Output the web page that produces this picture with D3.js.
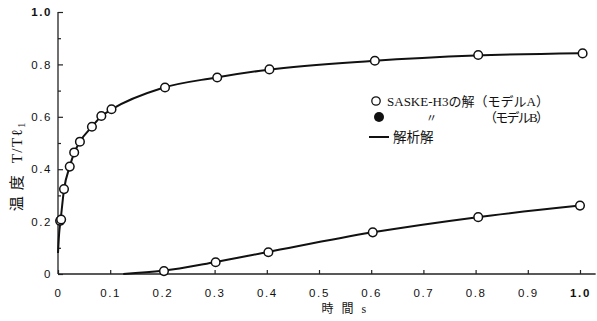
<!DOCTYPE html>
<html><head><meta charset="utf-8">
<script src="https://cdn.jsdelivr.net/npm/d3@7"></script>
<style>
body{margin:0;background:#fff;}
svg{display:block;}
text{fill:#111;}
</style></head>
<body>
<svg id="c" width="597" height="321"></svg>
<script>
// ---- data (time s, temperature ratio T/Tl1) ----
const upperT = [0.004, 0.006, 0.0115, 0.0225, 0.031, 0.042, 0.065, 0.083, 0.1025, 0.205, 0.305, 0.405, 0.607, 0.805, 1.005];
const upperV = [0.203, 0.208, 0.324, 0.41, 0.464, 0.505, 0.562, 0.603, 0.629, 0.712, 0.75, 0.781, 0.814, 0.836, 0.842];
const lowerT = [0.203, 0.302, 0.403, 0.603, 0.805, 1.0];
const lowerV = [0.011, 0.045, 0.083, 0.159, 0.217, 0.261];
const analyticUpperT = [0.0, 0.002, 0.005, 0.0115, 0.0225, 0.031, 0.042, 0.065, 0.083, 0.1025, 0.2, 0.3, 0.4, 0.6, 0.8, 1.0];
const analyticUpperV = [0.08, 0.15, 0.205, 0.322, 0.41, 0.462, 0.505, 0.562, 0.602, 0.628, 0.71, 0.749, 0.779, 0.813, 0.834, 0.843];
const analyticLowerT = [0.125, 0.2, 0.3, 0.4, 0.6, 0.8, 1.0];
const analyticLowerV = [0.0, 0.012, 0.045, 0.083, 0.158, 0.216, 0.261];
const xTicks = [0, 0.1, 0.2, 0.3, 0.4, 0.5, 0.6, 0.7, 0.8, 0.9, 1.0];
const xTickLabels = ["0", "0.1", "0.2", "0.3", "0.4", "0.5", "0.6", "0.7", "0.8", "0.9", "1.0"];
const yTicks = [0, 0.1, 0.2, 0.3, 0.4, 0.5, 0.6, 0.7, 0.8, 0.9, 1.0];
const yTickLabels = ["0", "", "0.2", "", "0.4", "", "0.6", "", "0.8", "", "1.0"];
const legendLabels = ["SASKE-H3の解（モデルA）", "〃", "（モデルB）", "解析解"];
const xTitle = "時 間 s";

const svg = d3.select("#c");
const x = d3.scaleLinear().domain([0, 1]).range([58, 580]);
const y = d3.scaleLinear().domain([0, 1]).range([274, 12]);
const numFont = "'Liberation Sans', Arial, sans-serif";

// axes
const xa = svg.append("g").attr("transform", `translate(0,${y(0)})`)
  .call(d3.axisBottom(x).tickValues(xTicks).tickSizeInner(-4).tickSizeOuter(0).tickPadding(15)
    .tickFormat((d, i) => xTickLabels[i]));
xa.select(".domain").remove();
const ya = svg.append("g").attr("transform", `translate(${x(0)},0)`)
  .call(d3.axisLeft(y).tickValues(yTicks).tickSizeInner(-4).tickSizeOuter(0).tickPadding(6)
    .tickFormat((d, i) => yTickLabels[i]));
ya.select(".domain").remove();
[xa, ya].forEach(g => {
  g.selectAll("line").attr("stroke", "#222").attr("stroke-width", 1.2);
  g.selectAll("text").attr("font-family", numFont).attr("font-size", 11.5)
    .attr("letter-spacing", 1.6).attr("fill", "#111");
});
ya.selectAll(".tick line").attr("x2", (d, i) => (i % 2 === 0 ? 5 : 3));
xa.selectAll(".tick text").filter(d => d === 1).attr("font-weight", "bold");
ya.selectAll(".tick text").filter(d => d === 1).attr("font-weight", "bold");

svg.append("line").attr("x1", x(0)).attr("x2", x(1.03)).attr("y1", y(0)).attr("y2", y(0))
  .attr("stroke", "#222").attr("stroke-width", 1.3);
svg.append("line").attr("x1", x(0)).attr("x2", x(0)).attr("y1", y(0)).attr("y2", y(1))
  .attr("stroke", "#222").attr("stroke-width", 1.3);

// analytic lines
const line = d3.line().x(d => x(d[0])).y(d => y(d[1])).curve(d3.curveMonotoneX);
svg.append("path").datum(analyticUpperT.map((t, i) => [t, analyticUpperV[i]]))
  .attr("d", line).attr("fill", "none").attr("stroke", "#111").attr("stroke-width", 2);
svg.append("path").datum(analyticLowerT.map((t, i) => [t, analyticLowerV[i]]))
  .attr("d", line).attr("fill", "none").attr("stroke", "#111").attr("stroke-width", 2);

// model A points
const pts = upperT.map((t, i) => [t, upperV[i]]).concat(lowerT.map((t, i) => [t, lowerV[i]]));
svg.append("g").selectAll("circle").data(pts).join("circle")
  .attr("cx", d => x(d[0])).attr("cy", d => y(d[1])).attr("r", 4.3)
  .attr("fill", "#fff").attr("stroke", "#111").attr("stroke-width", 1.5);

// legend
const lf = "'Liberation Serif', 'Noto Sans CJK JP', serif";
const lg = svg.append("g");
lg.append("circle").attr("cx", 376).attr("cy", 101).attr("r", 4.2).attr("fill", "#fff").attr("stroke", "#111").attr("stroke-width", 1.3);
lg.append("text").attr("x", 387).attr("y", 105.5).attr("font-family", lf).attr("font-size", 13)
  .attr("textLength", 162).attr("lengthAdjust", "spacing").text(legendLabels[0]);
lg.append("circle").attr("cx", 379).attr("cy", 117).attr("r", 5).attr("fill", "#111");
lg.append("text").attr("x", 426).attr("y", 122).attr("font-family", lf).attr("font-size", 11).text(legendLabels[1]);
lg.append("text").attr("x", 484).attr("y", 122).attr("font-family", lf).attr("font-size", 13)
  .attr("textLength", 65).attr("lengthAdjust", "spacing").text(legendLabels[2]);
lg.append("line").attr("x1", 369).attr("x2", 389).attr("y1", 137).attr("y2", 137).attr("stroke", "#111").attr("stroke-width", 2);
lg.append("text").attr("x", 393).attr("y", 141.5).attr("font-family", lf).attr("font-size", 13.5).text(legendLabels[3]);

// axis titles
svg.append("text").attr("x", 345).attr("y", 313).attr("text-anchor", "middle")
  .attr("font-family", lf).attr("font-size", 12).attr("letter-spacing", 2.5).text(xTitle);
const yt = svg.append("text").attr("transform", "translate(22,167) rotate(-90)")
  .attr("text-anchor", "middle").attr("font-family", lf).attr("font-size", 15);
yt.append("tspan").attr("letter-spacing", 6).text("温度");
yt.append("tspan").attr("dx", 6).attr("letter-spacing", 1.5).text("T/Tℓ");
yt.append("tspan").attr("font-size", 10).attr("dy", 3).text("1");
</script>
</body></html>
